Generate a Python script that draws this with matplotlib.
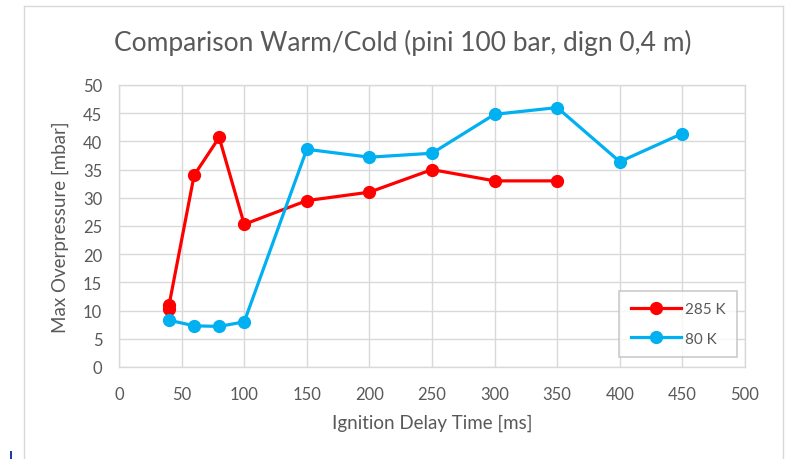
import matplotlib
matplotlib.use("Agg")
import matplotlib.pyplot as plt
from matplotlib.lines import Line2D
from matplotlib.patches import Rectangle

plt.rcParams['font.family'] = ['Lato', 'DejaVu Sans']

title = "Comparison Warm/Cold (pini 100 bar, dign 0,4 m)"
xlabel = "Ignition Delay Time [ms]"
ylabel = "Max Overpressure [mbar]"

warm_label = "285 K"
warm_x = [40, 40, 60, 80, 100, 150, 200, 250, 300, 350]
warm_y = [10.2, 11.0, 34.0, 40.7, 25.3, 29.5, 31.0, 35.0, 33.0, 33.0]

cold_label = "80 K"
cold_x = [40, 60, 80, 100, 150, 200, 250, 300, 350, 400, 450]
cold_y = [8.3, 7.3, 7.2, 8.0, 38.6, 37.2, 37.9, 44.8, 46.0, 36.4, 41.4]

x_ticks = [0, 50, 100, 150, 200, 250, 300, 350, 400, 450, 500]
y_ticks = [0, 5, 10, 15, 20, 25, 30, 35, 40, 45, 50]

W, H = 795, 460
fig = plt.figure(figsize=(W / 100, H / 100), dpi=100)
ax = fig.add_axes([119 / W, 1 - 368 / H, (745 - 119) / W, (368 - 86) / H])

grid_c = "#d9d9d9"
text_c = "#595959"

ax.plot(warm_x, warm_y, color="#ff0000", lw=2.3, marker="o", ms=8.5,
        label=warm_label, zorder=3)
ax.plot(cold_x, cold_y, color="#00b0f0", lw=2.3, marker="o", ms=8.5,
        label=cold_label, zorder=3)

ax.set_xlim(0, 500)
ax.set_ylim(0, 50)
ax.set_xticks(x_ticks)
ax.set_yticks(y_ticks)
ax.grid(True, color=grid_c, lw=1.0)
ax.set_axisbelow(True)
for s in ax.spines.values():
    s.set_color(grid_c)
    s.set_linewidth(1.0)
ax.tick_params(length=0, colors=text_c, labelsize=12)
ax.tick_params(axis="x", pad=14)
ax.tick_params(axis="y", pad=12)
for lab in ax.get_xticklabels() + ax.get_yticklabels():
    lab.set_color(text_c)

ax.set_xlabel(xlabel, color=text_c, fontsize=13.5, labelpad=8)
ax.set_ylabel(ylabel, color=text_c, fontsize=13.5, labelpad=10)

fig.text(403 / W, 1 - 43 / H, title, ha="center", va="center",
         fontsize=19, color=text_c)

leg = ax.legend(loc="lower right", bbox_to_anchor=((737 - 119) / (745 - 119), (368 - 358) / (368 - 86)),
                frameon=True, fancybox=False, fontsize=11, handlelength=3.3,
                labelspacing=1.0, borderpad=0.75, handletextpad=0.25,
                borderaxespad=0)
leg.get_frame().set_edgecolor("#bfbfbf")
leg.get_frame().set_linewidth(1.2)
for t in leg.get_texts():
    t.set_color(text_c)

# outer chart border
bc = "#d9d9d9"
fig.add_artist(Line2D([24 / W, 24 / W], [0, 1 - 7 / H], transform=fig.transFigure, color=bc, lw=1))
fig.add_artist(Line2D([24 / W, 783 / W], [1 - 7 / H, 1 - 7 / H], transform=fig.transFigure, color=bc, lw=1))
fig.add_artist(Line2D([783 / W, 783 / W], [0, 1 - 7 / H], transform=fig.transFigure, color=bc, lw=1))
fig.add_artist(Rectangle((10 / W, 0), 2 / W, 8 / H, transform=fig.transFigure, color="#1f3f9f", lw=0))

fig.savefig("out.png", dpi=100)
